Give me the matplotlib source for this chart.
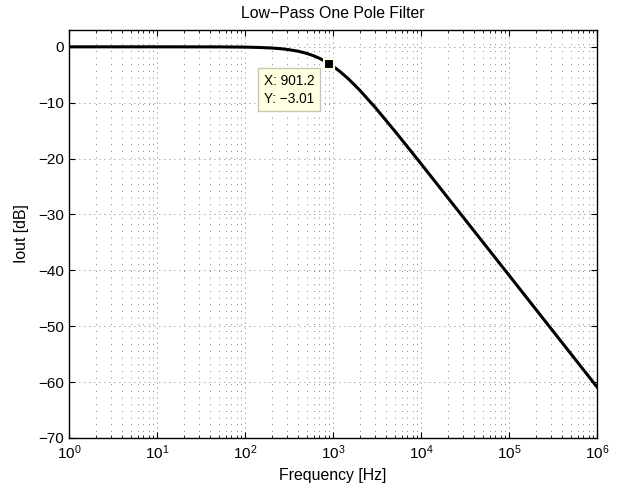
import matplotlib
matplotlib.use('Agg')
import matplotlib.pyplot as plt
from matplotlib.ticker import LogFormatterMathtext

plt.rcParams['font.family'] = ['Liberation Sans', 'DejaVu Sans']
plt.rcParams['mathtext.fontset'] = 'custom'
plt.rcParams['mathtext.rm'] = 'Liberation Sans'
plt.rcParams['mathtext.it'] = 'Liberation Sans:italic'

# values
freq = [1, 10, 50, 100, 150, 200, 250, 300, 400, 500, 600, 700, 800, 901.2,
        1000, 1200, 1500, 2000, 3000, 5000, 10000, 100000, 1000000]
iout = [0, 0, -0.01, -0.05, -0.12, -0.21, -0.32, -0.46, -0.78, -1.17, -1.59,
        -2.05, -2.52, -3.01, -3.49, -4.43, -5.76, -7.73, -10.82, -15.02,
        -20.94, -40.9, -60.9]
cursor_x = 901.2
cursor_y = -3.01
decades = [1, 10, 100, 1000, 10000, 100000, 1000000]

fig = plt.figure(figsize=(6.22, 4.93), dpi=100)
ax = fig.add_axes([0.111, 0.1116, 0.849, 0.8274])

ax.semilogx(freq, iout, color='k', linewidth=2.2)
ax.plot([cursor_x], [cursor_y], marker='s', markersize=7, color='k',
        markeredgecolor='#ffffe0', markeredgewidth=1.5)

ax.set_xlim(1, 1e6)
ax.set_ylim(-70, 3)
ax.set_yticks(range(-70, 1, 10))
ax.set_xticks(decades)
ax.xaxis.set_major_formatter(LogFormatterMathtext())
minor = [d * k for d in decades[:-1] for k in range(2, 10)]
ax.set_xticks(minor, minor=True)
ax.set_xticklabels([], minor=True)

ax.grid(True, which='major', linestyle=(0, (1, 5)), color='0.35', linewidth=0.6)
ax.grid(True, which='minor', axis='x', linestyle=(0, (1, 7)), color='0.35', linewidth=0.6)

ax.tick_params(which='both', direction='in', top=True, right=True, labelsize=11)
ax.tick_params(which='major', length=4)
ax.tick_params(which='minor', length=2)
ax.tick_params(axis='x', pad=4)
for s in ax.spines.values():
    s.set_linewidth(1)

ax.set_title('Low\u2212Pass One Pole Filter', fontsize=11.4, pad=9)
ax.set_xlabel('Frequency [Hz]', fontsize=11.4, labelpad=4)
ax.set_ylabel('Iout [dB]', fontsize=11.4, labelpad=7)

ax.text(0.369, 0.893, 'X: 901.2\nY: \u22123.01', transform=ax.transAxes,
        fontsize=9.8, va='top', ha='left', linespacing=1.35,
        bbox=dict(boxstyle='square,pad=0.4', facecolor='#ffffe1',
                  edgecolor='#c8c8b4', linewidth=1))

fig.savefig('out.png', dpi=100)
